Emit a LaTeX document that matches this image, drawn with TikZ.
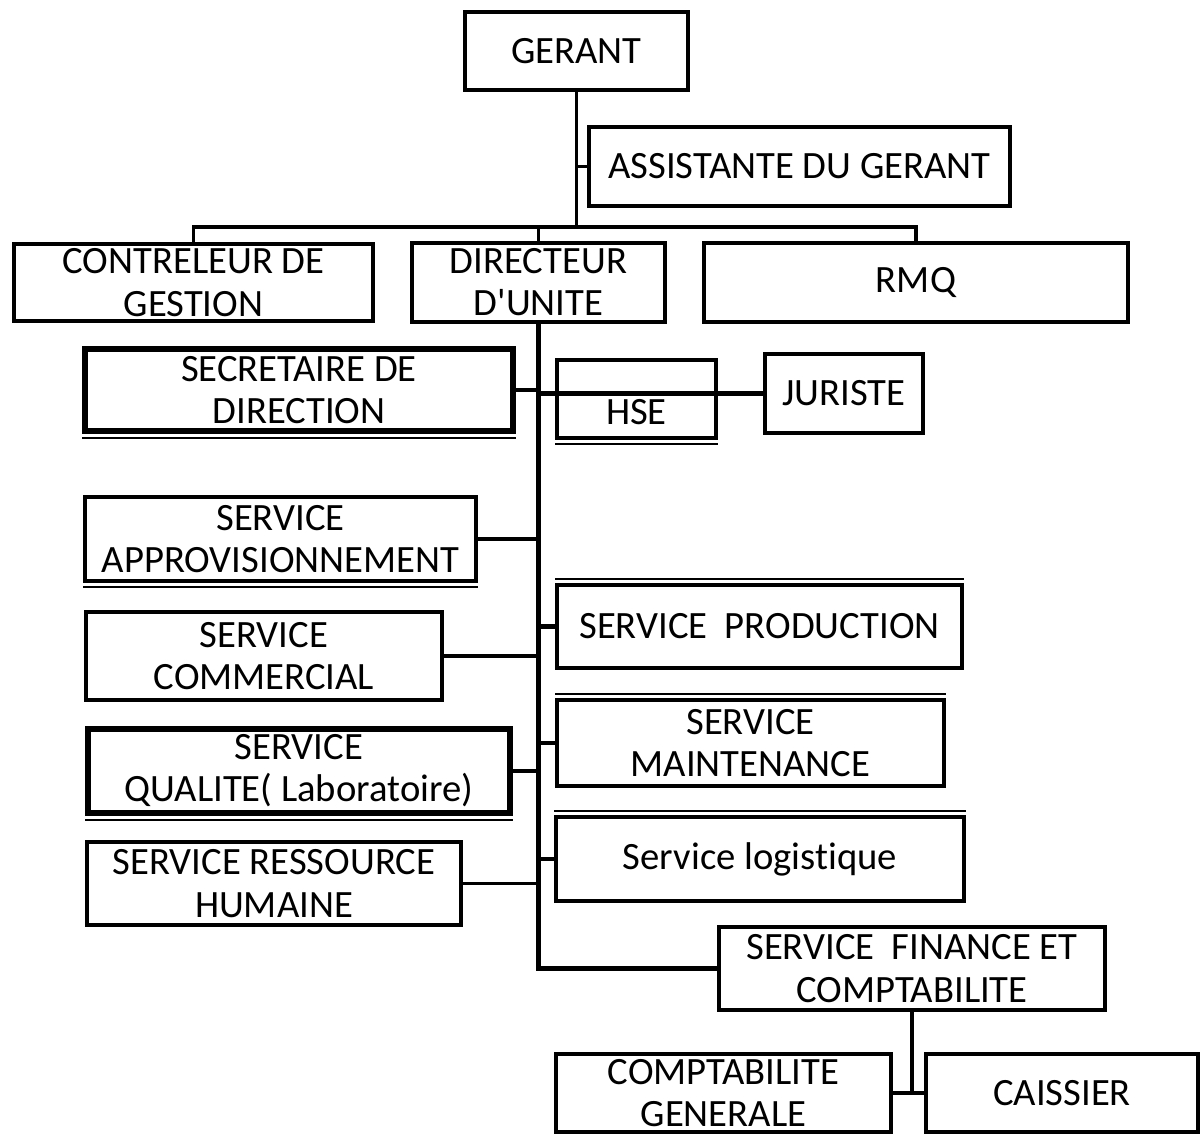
\documentclass[tikz,border=0pt]{standalone}
\usepackage{fontspec}
\setmainfont{Carlito}[Ligatures=NoCommon]
\usetikzlibrary{calc}

\tikzset{
  box/.style={draw, line width=2.2pt, align=center, inner sep=0pt,
    font=\fontsize{22}{24}\selectfont},
  sz/.style 2 args={minimum width=#1*0.02cm, minimum height=#2*0.02cm},
  heavy/.style={line width=3.2pt},
  lien/.style={line width=1.8pt},
  tronc/.style={line width=2.4pt},
  trait/.style={line width=1.4pt}
}

\begin{document}
\begin{tikzpicture}[x=0.02cm, y=-0.02cm]
\useasboundingbox (0,0) rectangle (1202,1134);

\node[box, sz={223}{78}] (ger) at (576.5,51) {GERANT};
\node[box, sz={421}{79}] (ass) at (799.5,166.5) {ASSISTANTE DU GERANT};
\node[box, sz={359}{77}] (ctrl) at (193.5,282.5) {CONTRELEUR DE\\GESTION};
\node[box, sz={253}{79}] (dir) at (538.5,282.5) {DIRECTEUR\\D\textquotesingle UNITE};
\node[box, sz={424}{79}] (rmq) at (916,282.5) {RMQ};

\node[box, heavy, sz={428}{82}] (sec) at (299,390) {SECRETAIRE DE\\DIRECTION};
\node[box, sz={159}{78}] (hse) at (636.5,399) {\smash{\raisebox{-0.5cm}{HSE}}};
\node[box, sz={158}{79}] (jur) at (844,393.5) {JURISTE};
\node[box, sz={391}{84}] (appro) at (280.5,539) {SERVICE\\APPROVISIONNEMENT};
\node[box, sz={405}{83}] (prod) at (759.5,626.5) {SERVICE\ \ PRODUCTION};
\node[box, sz={356}{88}] (com) at (264,656) {SERVICE\\COMMERCIAL};
\node[box, sz={387}{86}] (maint) at (750.5,743) {SERVICE\\MAINTENANCE};
\node[box, heavy, sz={422}{84}] (qual) at (299,771) {SERVICE\\QUALITE( Laboratoire)};
\node[box, sz={408}{84}] (logi) at (760,859) {Service logistique};
\node[box, sz={374}{83}] (rh) at (274,883.5) {SERVICE RESSOURCE\\HUMAINE};
\node[box, sz={386}{83}] (fin) at (912,968.5) {SERVICE\ \ FINANCE ET\\COMPTABILITE};
\node[box, sz={335}{78}] (cg) at (723.5,1093) {COMPTABILITE\\GENERALE};
\node[box, sz={272}{78}] (cais) at (1062,1093) {CAISSIER};

\foreach \n in {sec,hse,appro,qual}
  \draw[trait] ([yshift=-0.085cm]\n.south west) -- ([yshift=-0.085cm]\n.south east);
\foreach \n in {prod,maint,logi}
  \draw[trait] ([yshift=0.085cm]\n.north west) -- ([yshift=0.085cm]\n.north east);

\coordinate (barre) at ($(ger.south)+(0,135)$);
\draw[lien] (ger.south) -- (barre);
\draw[lien] (ass.west) -- (ass.west -| ger.south);
\draw[lien] (ctrl.north) -- (ctrl.north |- barre) -- (rmq.north |- barre) -- (rmq.north);
\draw[lien] (dir.north) -- (dir.north |- barre);

\draw[tronc] (dir.south) -- (dir.south |- fin.west) -- (fin.west);
\draw[lien] (sec.east) -- (sec.east -| dir.south);
\draw[tronc] (jur.west) -- (jur.west -| dir.south);
\foreach \n in {appro,com,qual,rh}
  \draw[lien] (\n.east) -- (\n.east -| dir.south);
\foreach \n in {prod,maint,logi}
  \draw[tronc] (\n.west) -- (\n.west -| dir.south);

\draw[lien] (fin.south) -- (fin.south |- cg.east);
\draw[tronc] (cg.east) -- (cais.west);
\end{tikzpicture}
\end{document}
